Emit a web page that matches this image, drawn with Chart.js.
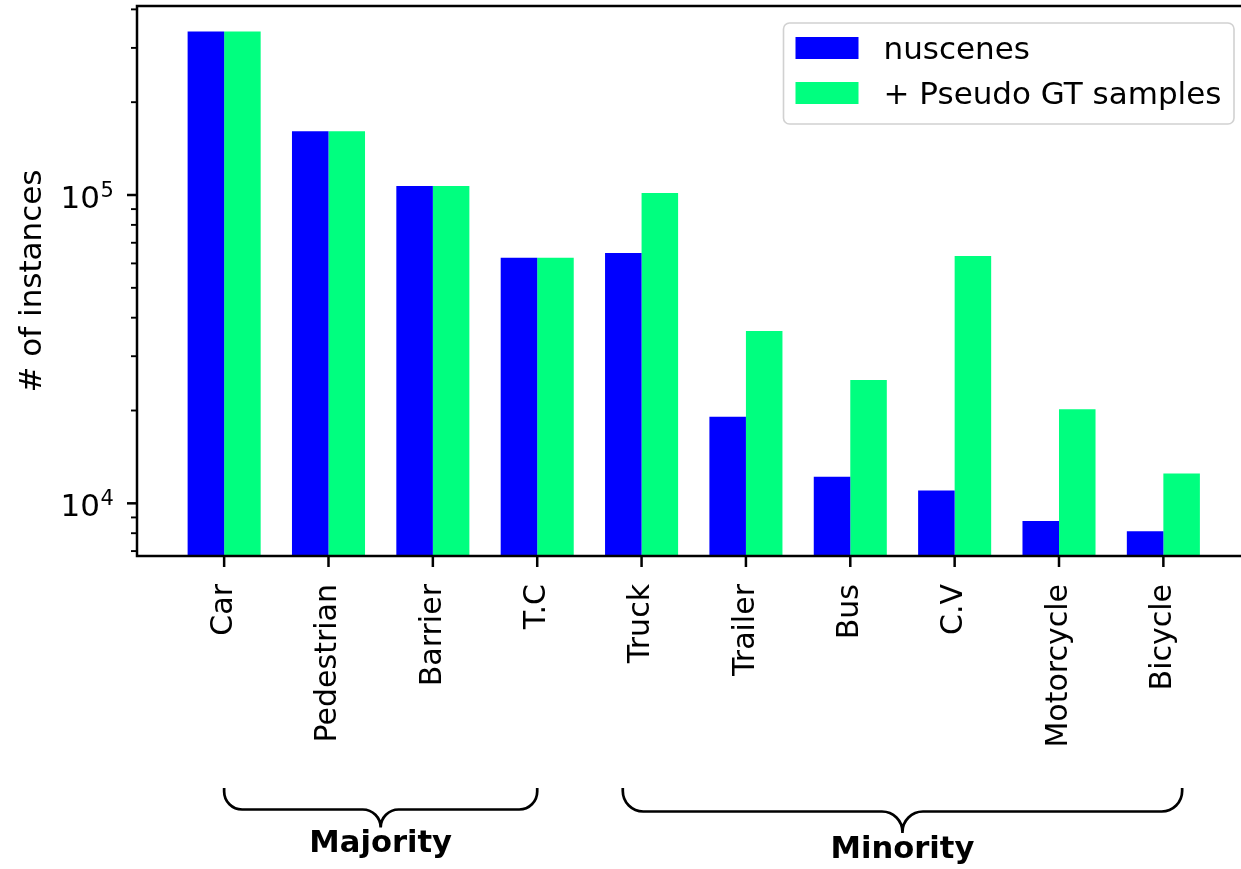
<!DOCTYPE html>
<html>
<head>
<meta charset="utf-8">
<script src="https://cdn.jsdelivr.net/npm/chart.js@4.4.1/dist/chart.umd.min.js"></script>
<style>
  html, body { margin: 0; padding: 0; background: #fff; overflow: hidden; width: 1241px; height: 869px; }
  canvas { display: block; }
</style>
</head>
<body>
<canvas id="chart" width="1260" height="869"></canvas>
<script>
// Instance counts per class (log scale)
const categories = ['Car', 'Pedestrian', 'Barrier', 'T.C', 'Truck', 'Trailer', 'Bus', 'C.V', 'Motorcycle', 'Bicycle'];
const nuscenesCounts = [339000, 161000, 107000, 62600, 64900, 19100, 12200, 11000, 8760, 8120];
const pseudoGtCounts = [339000, 161000, 107000, 62600, 101500, 36200, 25100, 63400, 20200, 12500];
const seriesNames = ['nuscenes', '+ Pseudo GT samples'];
const seriesColors = ['#0000ff', '#00ff7f'];

// Axis ticks
const yMajorTicks = [1e4, 1e5];
const yTickBase = '10';
const yTickExponents = ['4', '5'];
const yMinorTicks = [7000, 8000, 9000, 20000, 30000, 40000, 50000, 60000, 70000, 80000, 90000, 200000, 300000, 400000];

// Class groups shown under the axis
const groupNames = ['Majority', 'Minority'];
const groupFrom = [0, 3.82];
const groupTo = [3, 9.18];

const FONT = "'DejaVu Sans', 'Liberation Sans', sans-serif";
Chart.defaults.font.family = FONT;
Chart.defaults.color = '#000';

const braceStyle = [
  { top: 788, mid: 809.5, tip: 827, r: 18, textY: 851.7 },
  { top: 788, mid: 811.5, tip: 833, r: 20.5, textY: 858.3 }
];

function drawBrace(ctx, x0, x1, s) {
  const cx = (x0 + x1) / 2;
  ctx.beginPath();
  ctx.moveTo(x0, s.top);
  ctx.arcTo(x0, s.mid, x0 + s.r, s.mid, s.r);
  ctx.lineTo(cx - s.r, s.mid);
  ctx.arc(cx - s.r, s.mid + s.r, s.r, -Math.PI / 2, 0);
  ctx.lineTo(cx, s.tip);
  ctx.moveTo(x1, s.top);
  ctx.arcTo(x1, s.mid, x1 - s.r, s.mid, s.r);
  ctx.lineTo(cx + s.r, s.mid);
  ctx.arc(cx + s.r, s.mid + s.r, s.r, -Math.PI / 2, -Math.PI, true);
  ctx.lineTo(cx, s.tip);
  ctx.stroke();
}

const decorations = {
  id: 'decorations',
  afterDatasetsDraw(chart) {
    const { ctx, chartArea: a, scales: { x, y } } = chart;
    ctx.save();
    ctx.strokeStyle = '#000';
    ctx.lineCap = 'butt';

    // spines
    ctx.lineWidth = 2.5;
    ctx.strokeRect(a.left, a.top, a.right - a.left, a.bottom - a.top);

    // x tick marks
    categories.forEach((_, i) => {
      const px = x.getPixelForValue(i);
      ctx.beginPath(); ctx.moveTo(px, a.bottom); ctx.lineTo(px, a.bottom + 11); ctx.stroke();
    });
    // y major tick marks and power-of-ten labels
    ctx.fillStyle = '#000';
    ctx.textBaseline = 'alphabetic';
    yMajorTicks.forEach((v, i) => {
      const py = y.getPixelForValue(v);
      ctx.beginPath(); ctx.moveTo(a.left - 10, py); ctx.lineTo(a.left, py); ctx.stroke();
      const xs = a.left - 37;
      ctx.font = '31px ' + FONT;
      ctx.textAlign = 'right';
      ctx.fillText(yTickBase, xs, py + 13);
      ctx.font = '21px ' + FONT;
      ctx.textAlign = 'left';
      ctx.fillText(yTickExponents[i], xs + 0.5, py + 1.8);
    });
    // y minor tick marks
    ctx.lineWidth = 1.9;
    yMinorTicks.forEach(v => {
      const py = y.getPixelForValue(v);
      ctx.beginPath(); ctx.moveTo(a.left - 6, py); ctx.lineTo(a.left, py); ctx.stroke();
    });

    // legend
    const lx = a.right - 467, ly = a.top + 17, lw = 450.5, lh = 101;
    ctx.beginPath();
    ctx.roundRect(lx, ly, lw, lh, 6);
    ctx.fillStyle = 'rgba(255,255,255,0.8)';
    ctx.fill();
    ctx.strokeStyle = 'rgba(204,204,204,0.9)';
    ctx.lineWidth = 1.6;
    ctx.stroke();
    ctx.font = '31px ' + FONT;
    ctx.textAlign = 'left';
    ctx.textBaseline = 'alphabetic';
    chart.data.datasets.forEach((ds, i) => {
      const rowY = ly + 14 + i * 45;
      ctx.fillStyle = ds.backgroundColor;
      ctx.fillRect(lx + 12, rowY, 63, 22);
      ctx.fillStyle = '#000';
      ctx.fillText(ds.label, lx + 100, rowY + 21.5);
    });

    // group braces and labels
    ctx.strokeStyle = '#000';
    ctx.lineWidth = 2.7;
    ctx.font = 'bold 30.6px ' + FONT;
    ctx.textAlign = 'center';
    groupNames.forEach((name, i) => {
      const x0 = x.getPixelForValue(groupFrom[i]);
      const x1 = x.getPixelForValue(groupTo[i]);
      drawBrace(ctx, x0, x1, braceStyle[i]);
      ctx.fillStyle = '#000';
      ctx.fillText(name, (x0 + x1) / 2, braceStyle[i].textY);
    });
    ctx.restore();
  }
};

const toPoints = arr => arr.map((v, i) => ({ x: i, y: v }));

new Chart(document.getElementById('chart'), {
  type: 'bar',
  data: {
    datasets: [
      { label: seriesNames[0], data: toPoints(nuscenesCounts), backgroundColor: seriesColors[0],
        categoryPercentage: 0.7, barPercentage: 1.0, borderWidth: 0 },
      { label: seriesNames[1], data: toPoints(pseudoGtCounts), backgroundColor: seriesColors[1],
        categoryPercentage: 0.7, barPercentage: 1.0, borderWidth: 0 }
    ]
  },
  options: {
    responsive: false,
    animation: false,
    devicePixelRatio: 1,
    layout: { padding: { left: 0, top: 6, right: 9.5, bottom: 0 } },
    plugins: { legend: { display: false }, tooltip: { enabled: false } },
    scales: {
      x: {
        type: 'linear',
        min: -0.835,
        max: 9.835,
        offset: false,
        grid: { display: false },
        border: { display: false },
        afterBuildTicks: s => { s.ticks = categories.map((_, i) => ({ value: i })); },
        afterFit: s => { s.height = 313; s.paddingLeft = 0; s.paddingRight = 0; },
        ticks: {
          autoSkip: false, maxRotation: 90, minRotation: 90, padding: 20,
          font: { size: 30 },
          callback: v => categories[v]
        }
      },
      y: {
        type: 'logarithmic',
        min: 6748,
        max: 410200,
        grid: { display: false },
        border: { display: false },
        afterBuildTicks: s => { s.ticks = yMajorTicks.map(v => ({ value: v })); },
        afterFit: s => { s.width = 137; s.paddingTop = 0; s.paddingBottom = 0; },
        ticks: { display: false },
        title: {
          display: true, text: '# of instances',
          font: { size: 31 }, padding: { top: 14, bottom: 0 }
        }
      }
    }
  },
  plugins: [decorations]
});
</script>
</body>
</html>
